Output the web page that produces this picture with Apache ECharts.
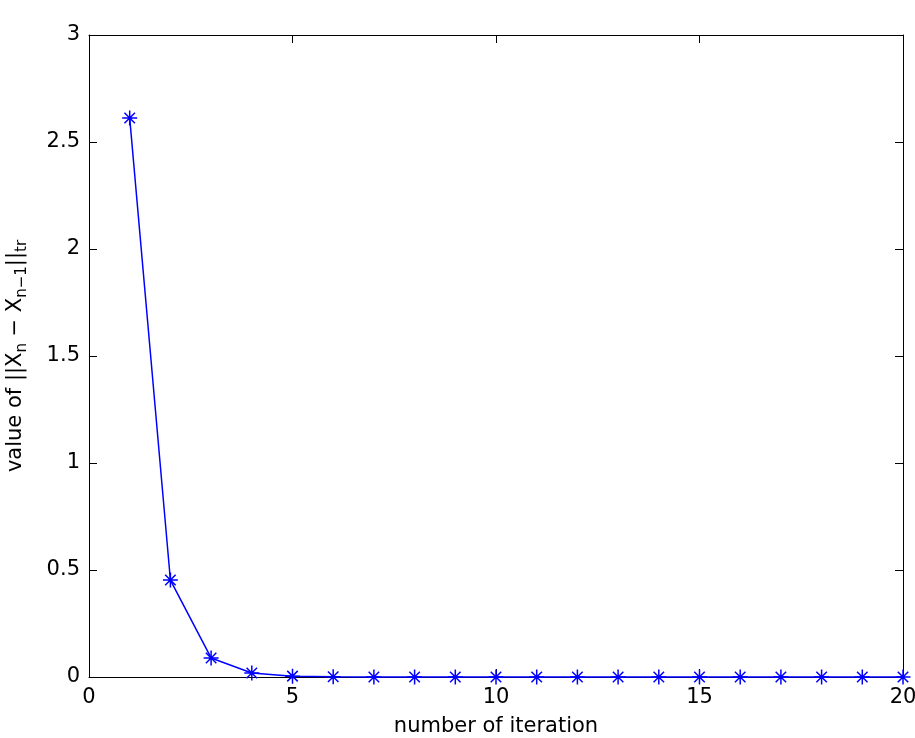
<!DOCTYPE html>
<html><head><meta charset="utf-8">
<script src="https://cdn.jsdelivr.net/npm/echarts@6/dist/echarts.min.js"></script>
<style>html,body{margin:0;padding:0;background:#fff}#c{width:915px;height:738px}</style>
</head><body><div id="c"></div>
<script>
var iterations = [1,2,3,4,5,6,7,8,9,10,11,12,13,14,15,16,17,18,19,20];
var values = [2.612,0.453,0.089,0.019,0.004,0.0008,0.0002,0,0,0,0,0,0,0,0,0,0,0,0,0];
var xTicks = [0,5,10,15,20];
var yTicks = [0,0.5,1,1.5,2,2.5,3];

var font = '"DejaVu Sans", sans-serif';
var chart = echarts.init(document.getElementById('c'), null, {renderer:'canvas'});
var star = 'path://M0,-10L0,10M-10,0L10,0M-7,-7L7,7M-7,7L7,-7';
function baseAxis(extra){
  return Object.assign({
    axisLine:{show:true,onZero:false,lineStyle:{color:'#000',width:1}},
    axisTick:{show:true,inside:true,length:8,lineStyle:{color:'#000',width:1}},
    splitLine:{show:false}
  }, extra);
}
chart.setOption({
  animation:false,
  backgroundColor:'#fff',
  grid:{left:89,right:12,top:35,bottom:61,containLabel:false,outerBoundsMode:'none'},
  xAxis:[
    baseAxis({type:'value',min:0,max:20,interval:5,position:'bottom',
      axisLabel:{color:'#000',fontSize:21,fontFamily:font,margin:10,formatter:function(v){return xTicks.indexOf(v)>=0?String(v):'';}},
      name:'number of iteration',nameLocation:'middle',nameGap:39,
      nameTextStyle:{color:'#000',fontSize:21,fontFamily:font}}),
    baseAxis({type:'value',min:0,max:20,interval:5,position:'top',axisLabel:{show:false}})
  ],
  yAxis:[
    baseAxis({type:'value',min:0,max:3,interval:0.5,position:'left',
      axisLabel:{color:'#000',fontSize:21,fontFamily:font,margin:9,formatter:function(v){return yTicks.indexOf(v)>=0?String(v):'';}},
      name:'{a|value of ||X}{s|n}{a| \u2212 X}{s|n\u22121}{a|||}{s|tr}',nameLocation:'middle',nameGap:59,nameRotate:90,
      nameTextStyle:{color:'#000',fontFamily:font,rich:{
        a:{fontSize:21,fontFamily:font,color:'#000'},
        s:{fontSize:15,fontFamily:font,color:'#000',padding:[14,0,0,0]}
      }}}),
    baseAxis({type:'value',min:0,max:3,interval:0.5,position:'right',axisLabel:{show:false}})
  ],
  series:[{
    type:'line',
    data:iterations.map(function(x,i){return [x,values[i]];}),
    symbol:star,symbolSize:15,showAllSymbol:true,
    lineStyle:{color:'#0000ff',width:1.5},
    itemStyle:{color:'none',borderColor:'#0000ff',borderWidth:1.5},
    clip:false
  }]
});
</script></body></html>
